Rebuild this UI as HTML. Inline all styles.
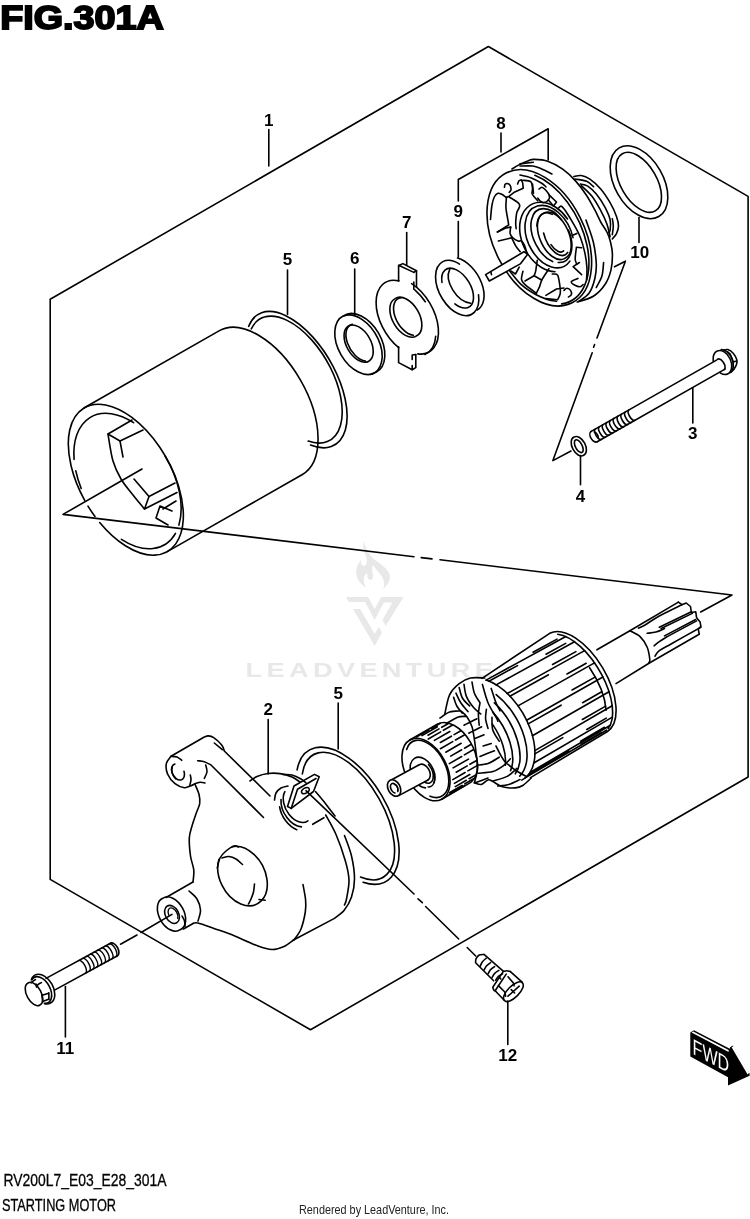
<!DOCTYPE html>
<html><head><meta charset="utf-8"><title>FIG.301A STARTING MOTOR</title>
<style>
html,body{margin:0;padding:0;background:#fff}
body{width:750px;height:1219px;overflow:hidden;font-family:"Liberation Sans",sans-serif}
svg{display:block;will-change:transform;opacity:.9999}
.k{fill:none;stroke:#000;stroke-width:1.6;stroke-linecap:round;stroke-linejoin:round}
.w{fill:#fff;stroke:#000;stroke-width:1.6;stroke-linecap:round;stroke-linejoin:round}
.t{fill:none;stroke:#000;stroke-width:1.4;stroke-linecap:round;stroke-linejoin:round}
.n{font:bold 17px "Liberation Sans",sans-serif;text-anchor:middle;fill:#000}
.wm{fill:#e8e8e8}
</style></head><body>
<svg width="750" height="1219" viewBox="0 0 750 1219">
<rect width="750" height="1219" fill="#fff"/>
<g class="wm">
<path d="M364.2 541.4C364.5 541.1 364.7 544.5 365.4 546.2C366.1 547.9 366.9 549.8 368.2 551.8C369.5 553.8 371 556.2 373 558.2C375 560.2 377.9 561.9 380.2 563.8C382.5 565.7 385 567.5 386.6 569.4C388.2 571.3 389.4 573 389.8 575C390.2 577 389.8 579.4 389 581.4C388.2 583.4 385.9 585.8 385 587C384.1 588.2 383.5 589.3 383.4 588.6C383.3 587.9 384.5 585 384.2 583C383.9 581 383 578.7 381.8 576.6C380.6 574.5 378.5 572.1 377 570.2C375.5 568.3 373.8 565.3 373 565.4C372.2 565.5 372.2 569.3 372.2 571C372.2 572.7 373 574.5 373 575.8C373 577.1 372.7 578.3 372.2 579C371.7 579.7 370.5 579.9 369.8 579.8C369.1 579.7 368.2 579 367.8 578.2C367.4 577.4 367.6 575.8 367.4 575C367.2 574.2 367.1 573.1 366.6 573.4C366.1 573.7 364.7 575.3 364.2 576.6C363.7 577.9 363.7 579.9 363.8 581.4C363.9 582.9 364.5 584.3 365 585.4C365.5 586.5 367.1 587.9 366.6 587.8C366.1 587.7 363.3 586.1 361.8 584.6C360.3 583.1 358.7 581 357.8 579C356.9 577 356.3 574.6 356.2 572.6C356.1 570.6 356.4 568.9 357 567C357.6 565.1 359.1 562.6 359.8 561.4C360.5 560.2 360.8 559.5 361 559.8C361.2 560.1 360.7 562.1 361 563C361.3 563.9 361.9 565 362.6 565.4C363.3 565.8 364.3 565.8 365 565.4C365.7 565 366.3 564.1 366.6 563C366.9 561.9 366.9 560.6 366.6 559C366.3 557.4 365.5 555.3 365 553.4C364.5 551.5 363.5 549.8 363.4 547.8C363.3 545.8 363.9 541.7 364.2 541.4Z"/>
<path d="M346.1 597H368L374.7 609.1L381.1 597H403.5L385.7 625.9L382.5 619.9L392.3 602.6H383.9L374.7 619.9L365.2 602.1H348.9Z"/>
<path d="M353.1 609.1H360.1L374.7 633.9L378.7 626.9L382 632.5L374.7 646Z"/>
<text transform="translate(245.5 677) scale(1.32 1)" style="font:bold 20.6px 'Liberation Sans',sans-serif;letter-spacing:3.3px">LEADVENTURE</text>
</g>
<path class="k" d="M50.2 879.4V299.3L488.4 46.5L748.1 196.4V777L310.5 1029.8Z"/>
<path class="k" d="M142 469L63 514.4L414 556.7"/>
<path class="k" d="M421.2 557.6L432 558.9"/>
<path class="k" d="M440 559.8L732 595L700.7 612"/>
<path class="k" d="M84.7 500.4A83 46 60 1 1 99.7 522.5M95 516.5A83 46 60 0 1 88 506.2"/>
<path class="k" d="M84.3 407.8L219 330.9A83 46 60 0 1 302 474.7L167.3 551.6"/>
<path class="k" d="M175.5 533.4A73.8 45 60 0 1 121.4 539.3"/>
<path class="k" d="M81.2 488.5A73.8 45 60 0 1 75.8 470.9"/>
<path class="k" d="M74.1 459.4A73.8 45 60 0 1 133.6 422.7"/>
<path class="k" d="M165.2 456.3A73.8 45 60 0 1 178.9 525.1"/>
<path class="k" d="M132 420L108 434L120 441L143 430"/>
<path class="k" d="M120 441L121.5 449L123 457"/>
<path class="k" d="M108 434C108.8 438.5 110.8 453.5 113 461C115.2 468.5 117.7 473.3 121 479C124.3 484.7 129.1 490 133 495C136.9 500 142.6 506.7 144.5 509"/>
<path class="k" d="M134 479L149 496.5L175 483"/>
<path class="k" d="M149 496.5L144.5 509L177 492.5"/>
<path class="k" d="M172 511L160 506L156 518L168 525"/>
<path class="k" d="M163 509L176 501"/>
<path class="k" d="M248.7 326.3A75.7 38.4 59.7 1 1 310.5 445"/>
<path class="k" d="M251.3 328.8A70 36.9 60.2 1 1 308.2 441.1"/>
<path class="k" d="M376.1 372.2A32.6 20.8 60 1 1 343.5 315.8A32.6 20.8 60 1 1 376.1 372.2Z"/>
<path class="k" d="M343.8 315.9A32.4 20.6 60 1 1 370.5 374.4"/>
<path class="k" d="M368.8 361.2A20.3 12.1 60 1 1 348.5 326A20.3 12.1 60 1 1 368.8 361.2Z"/>
<path class="k" d="M365.4 361.1A20.3 12.1 60 0 1 352.4 324.2"/>
<path class="k" d="M414.8 289.8A41.2 25 60 0 1 425.3 301.8"/>
<path class="k" d="M435.7 336.2A41.2 25 60 0 1 424.9 354.5"/>
<path class="k" d="M398.7 347.7A41.2 25 60 0 1 398.9 280.9"/>
<path class="k" d="M411.6 283.6A41.2 25 60 0 1 417.8 353.9"/>
<path class="k" d="M398.6 281L398.6 265.2L413.8 272.4M413.8 282L413.8 289.2"/>
<path class="k" d="M398.9 265.5L402.9 263.6L416.5 270.8L413.8 272.4"/>
<path class="k" d="M416.5 270.8L416.5 287"/>
<path class="k" d="M398.6 346.8L398.6 362.6L412.2 369.7M412.2 355L412.2 359.5M412.2 365.5L412.2 369.7M412.2 355L415.8 354.5"/>
<path class="k" d="M412.2 369.7L415.8 367.6L415.8 354.5"/>
<path class="k" d="M416.6 335.8A21.5 13 60 1 1 395.1 298.6A21.5 13 60 1 1 416.6 335.8Z"/>
<path class="k" d="M413.4 335.2A20.5 12 60 0 1 401.2 297.8"/>
<path class="k" d="M478.5 294.7A30 18.2 60.6 1 1 459.5 264.1"/>
<path class="k" d="M457.5 258A29.8 18.4 58 0 1 477.1 310"/>
<path class="k" d="M442 282.4A22.1 12.7 58 1 1 454.9 303.9"/>
<path class="k" d="M449.8 269.2A22.4 14.8 53.6 0 0 470.7 303.3"/>
<path class="k" d="M658.8 216.5A39.6 24.2 60 1 1 619.2 147.9A39.6 24.2 60 1 1 658.8 216.5Z"/>
<path class="k" d="M655.3 210.9A33 18 60 1 1 622.3 153.7A33 18 60 1 1 655.3 210.9Z"/>
<path class="k" d="M583.6 455.3A10.3 6.3 62 1 1 574 437.1A10.3 6.3 62 1 1 583.6 455.3Z"/>
<path class="k" d="M582.1 452.4A7 3.3 62 1 1 575.5 440A7 3.3 62 1 1 582.1 452.4Z"/>
<path class="k" d="M723.6 350.2C724.3 350.1 726.2 349.1 727.8 349.6C729.4 350.1 731.7 351.5 733.2 353.2C734.7 354.9 736.2 357.9 736.8 359.8C737.3 361.7 737 363 736.5 364.6C736 366.2 734.8 368.1 733.8 369.4C732.8 370.7 731.1 371.9 730.6 372.4"/>
<path class="k" d="M727.6 351.8L730.2 354.2L733.2 362L733.2 366.5"/>
<path class="k" d="M733.2 362L736.6 361"/>
<path class="k" d="M721.2 349.6A12.6 8.5 65.8 0 1 730.6 372.3"/>
<path class="w" d="M727.6 374A12.6 8.5 65.8 1 1 717.2 351A12.6 8.5 65.8 1 1 727.6 374Z"/>
<path d="M591.2 431.4L716.5 360.1L725 369.1L597.2 441.8Z" fill="#fff"/>
<path class="k" d="M591.2 431.4L716.5 360.1"/>
<path class="k" d="M597.2 441.8L725 369.1"/>
<path class="k" d="M717.4 359.3A6.3 3.8 60.4 0 1 724.4 369.5"/>
<path class="k" d="M597.2 441.8A6 3.6 60.4 0 1 591.2 431.4"/>
<path class="k" d="M594.3 432A4.2 2 60.4 0 1 598.4 438.5"/>
<path class="k" d="M601.5 439.4A6 2.7 60.4 0 1 595.5 428.9M605.2 437.2A6 2.7 60.4 0 1 599.3 426.8M608.9 435.1A6 2.7 60.4 0 1 603 424.7M612.6 433A6 2.7 60.4 0 1 606.7 422.6M616.4 430.9A6 2.7 60.4 0 1 610.4 420.5M620.1 428.8A6 2.7 60.4 0 1 614.1 418.3M623.8 426.7A6 2.7 60.4 0 1 617.9 416.2M627.5 424.5A6 2.7 60.4 0 1 621.6 414.1M631.2 422.4A6 2.7 60.4 0 1 625.3 412M635 420.3A6 2.7 60.4 0 1 629 409.9"/>
<path class="k" d="M46 978.4L110.5 943.2"/>
<path class="k" d="M55 989.9L117.5 955.8"/>
<path class="k" d="M110.5 943.2A7.2 4 61.3 0 1 117.5 955.8"/>
<path class="t" d="M78.5 960.6A7.2 3.2 61.4 0 1 85.5 973.3M82.4 958.5A7.2 3.2 61.4 0 1 89.3 971.2M86.2 956.5A7.2 3.2 61.4 0 1 93.1 969.1M90 954.4A7.2 3.2 61.4 0 1 96.9 967M93.8 952.3A7.2 3.2 61.4 0 1 100.7 964.9M97.6 950.2A7.2 3.2 61.4 0 1 104.5 962.9M101.4 948.1A7.2 3.2 61.4 0 1 108.3 960.8M105.2 946.1A7.2 3.2 61.4 0 1 112.1 958.7M109 944A7.2 3.2 61.4 0 1 116 956.6"/>
<path class="k" d="M31.3 979.7A16 10.5 60.4 1 1 44.6 1003.7"/>
<path class="k" d="M31.9 979.7A14.4 8.8 60.4 1 1 44.4 1003.2"/>
<path class="k" d="M39.9 1005A12.5 6.9 61.9 1 1 28.1 983A12.5 6.9 61.9 1 1 39.9 1005Z"/>
<path class="k" d="M31 982.8L33 981.2L35.4 979.6"/>
<path class="k" d="M36.6 985.8L39 983.8L41.4 982.6"/>
<path class="k" d="M36 984L36.6 987.2"/>
<path class="k" d="M42.2 995.2L48.6 993.2"/>
<path class="k" d="M42.6 1001.6L48.6 999.2"/>
<path class="k" d="M42 994.8L42.7 1002"/>
<path class="k" d="M48.8 992.8L48.9 999.4"/>
<path class="k" d="M120.5 944.2L137 935"/>
<path class="k" d="M141 932.5L172 914.4"/>
<path class="k" d="M503.2 971.2L484 954.4C483.2 954.5 480.5 954.3 479.2 955C477.9 955.8 476.6 957.5 476 958.8C475.4 960.1 475.7 962.1 475.6 962.8L493.6 980.8"/>
<path class="k" d="M486.2 958.2C485.6 958.8 483.4 960.5 482.4 961.8C481.4 963.2 480.4 965.8 480 966.6M490.6 962.6C489.9 963.1 487.7 964.6 486.6 965.8C485.5 967.1 484.4 969.5 484 970.2M494.6 966.6C494 967.1 491.7 968.4 490.6 969.6C489.5 970.9 488.4 973.1 488 973.8M498.9 970.4C498.2 970.9 495.9 972.2 494.7 973.4C493.6 974.6 492.5 976.9 492 977.6M502.6 973.8C501.9 974.2 499.5 975.3 498.4 976.4C497.3 977.5 496.1 979.5 495.7 980.2"/>
<path class="k" d="M495.6 991.2C495.3 991 494.2 990.7 493.8 990C493.3 989.3 493 987.7 492.8 987.2L503.2 971.6C503.8 971.5 505.6 970.7 506.8 970.7C508 970.7 509.8 971.5 510.4 971.6"/>
<path class="k" d="M506.2 974.1L495.8 989.8"/>
<path class="k" d="M499.4 977.4L500.8 979"/>
<path class="k" d="M510.4 971.6L522.4 982.4"/>
<path class="k" d="M495.6 991.2L504 1000"/>
<path class="k" d="M504.5 1000.6A12.6 5.4 135.1 1 1 522.3 982.8A12.6 5.4 135.1 1 1 504.5 1000.6Z"/>
<path class="k" d="M508 976.8L513.6 983.2L514.1 985.8"/>
<path class="k" d="M498.4 985.6L504.8 992L505.6 996.2"/>
<path class="k" d="M508 996.2L519.2 986.2"/>
<path class="k" d="M511.2 989.6L514.6 993"/>
<path class="k" d="M297.1 769.9A76 39.6 59.6 1 1 363.1 882.3"/>
<path class="k" d="M302.3 774A70.5 35.4 60.5 1 1 360.5 877"/>
<path class="k" d="M195 783.7C194.3 784 192.8 785 191 785.7C189.2 786.4 187 788 184.3 787.7C181.6 787.4 177.8 785.9 175 783.7C172.2 781.5 169.1 777.6 167.7 774.3C166.2 771 165.8 766.7 166.3 763.7C166.9 760.7 170.2 757.5 171 756.3L204.3 737C205 736.8 206.7 735.8 208.3 735.9C209.9 736 211.5 736.2 213.7 737.7C215.9 739.2 219.9 742.8 221.7 745C223.5 747.2 223.9 750 224.3 751L270 796"/>
<path class="k" d="M171 756.3C172 756.4 175.2 756.3 177 757C178.8 757.7 180.9 759.8 181.7 760.3"/>
<path class="k" d="M214.3 743L222.3 749.7"/>
<path class="k" d="M197.7 760.7C198.8 760.9 202.1 761 204.3 761.7C206.5 762.4 209.9 764.5 211 765L263.5 817.5"/>
<path class="k" d="M205.7 765C205.9 766.1 207.2 769.5 207 771.7C206.8 773.9 204.8 777.2 204.3 778.3"/>
<path class="k" d="M195 783.7C195.9 783.5 198.6 782.4 200.3 782.3C202 782.2 204.2 782.9 205 783"/>
<path class="k" d="M190.3 775C190.4 775.8 191.1 777.9 191 779.7C190.9 781.5 189.9 784.7 189.7 785.7"/>
<path class="k" d="M184 771.3A8.6 5.8 62 1 1 174.9 764"/>
<path class="k" d="M175.9 778.8A8.6 5.8 62 0 1 172.2 767.4"/>
<path class="k" d="M195 784.3C195.7 786 198.2 791.1 199 794.3C199.8 797.5 200.1 800.6 199.7 803.7C199.2 806.8 197.5 809.5 196.3 813C195.1 816.5 193.5 820.8 192.3 825C191.1 829.2 189.6 832.8 189.3 838C189 843.2 189.8 850.7 190.5 856C191.2 861.3 193.4 865.7 193.8 870C194.2 874.3 193.1 880 193 882"/>
<path class="k" d="M193 882L166 897.5"/>
<path class="k" d="M180.2 929.7A18 11.6 61 1 1 162.8 898.3A18 11.6 61 1 1 180.2 929.7Z"/>
<path class="k" d="M183.5 929L193.5 923.3"/>
<path class="k" d="M193.5 923.3C194.2 923.2 194.6 922.1 198 923C201.4 923.9 208.7 926.7 214 928.5C219.3 930.3 222.7 931.1 230 934C237.3 936.9 251 943.4 258 946C265 948.6 267.7 949.4 272 949.5C276.3 949.6 280.4 948.1 284 946.5C287.6 944.9 291.9 941.1 293.5 940"/>
<path class="k" d="M189 891C190.3 892.3 195.1 895.8 197 899C198.9 902.2 200.3 906.3 200.5 910C200.7 913.7 198.4 919.2 198 921"/>
<path class="k" d="M182 916C182.4 916.8 184 919.2 184.5 921C185 922.8 184.9 925.6 185 926.5"/>
<path class="k" d="M176.7 922.8A9.6 6.6 61 1 1 167.3 906A9.6 6.6 61 1 1 176.7 922.8Z"/>
<path class="t" d="M168.8 915.2A6.8 4.2 61 1 1 177.7 918.3"/>
<path class="k" d="M232.2 846.6A31.5 22.5 62 1 1 219 859.3"/>
<path class="k" d="M238.5 847C237.8 846.8 236.1 845.3 234 846C231.9 846.7 228.3 849 226 851C223.7 853 221.4 855.2 220 858C218.6 860.8 217.8 866.3 217.3 868"/>
<path class="k" d="M222 858C223.2 857.8 226.7 856.3 229 856.5C231.3 856.7 233.8 857.7 236 859C238.2 860.3 241.4 863.6 242.5 864.5"/>
<path class="k" d="M254.5 884C254.3 885.3 254.1 889.5 253.5 892C252.9 894.5 251.8 897 251 899C250.2 901 248.9 903.2 248.5 904"/>
<path class="k" d="M259 899.5L265.2 900.2"/>
<path class="k" d="M250 781C251.2 780.2 254 777.8 257 776.5C260 775.2 264.2 774 268 773.5C271.8 773 276 773 280 773.6C284 774.2 288.7 775.6 292 777C295.3 778.4 298.7 781.2 300 782"/>
<path class="k" d="M283 774.5C284.5 774.6 289 774.2 292 775C295 775.8 298.7 777.7 301 779C303.3 780.3 305.2 782.3 306 783"/>
<path class="k" d="M325.7 815C327.4 818.2 332.7 826.9 336 834.5C339.3 842.1 343.1 853.1 345.3 860.7C347.5 868.3 348.8 873.6 349 880C349.2 886.4 347.2 894.8 346.5 899C345.8 903.2 344.8 904 344.5 905"/>
<path class="k" d="M344.5 835.5C345.7 838.9 349.8 848.8 351.5 856C353.2 863.2 354.5 872.2 354.5 879C354.5 885.8 353.2 891.8 351.5 897C349.8 902.2 346.9 906.9 344 910.5C341.1 914.1 335.7 917.2 334 918.6L293.5 940"/>
<path class="k" d="M312.7 824.3L323.9 817.7"/>
<path class="k" d="M303 884.6C303.4 887.2 305.2 895.4 305.6 900C306 904.6 306.1 907.2 305.3 912C304.5 916.8 302.9 924.3 301 929C299.1 933.7 295.2 938.2 294 940"/>
<path class="k" d="M307.9 820.8A19 12.5 60 0 1 284.9 791.7"/>
<path class="k" d="M301.4 826.9A21 14 60 0 1 281 799.6"/>
<path class="k" d="M296.8 829.7A22.5 15 60 0 1 279.6 806.8"/>
<path class="k" d="M274.5 800C274.8 798.8 274.9 795 276 793C277.1 791 279 789.2 281 788C283 786.8 286.8 786.3 288 786"/>
<path class="k" d="M287.5 806.5L294 786L314.5 774.4L319.2 776.7L313.5 791.5L291.2 808.4L287.5 806.5"/>
<path class="k" d="M291.2 808.4L297.5 789.2L316 778.5"/>
<path class="k" d="M309 788.5A4.2 2.3 -30 1 1 301.8 792.7A4.2 2.3 -30 1 1 309 788.5Z"/>
<path class="k" d="M306 790.7L414 894"/>
<path class="k" d="M315.5 791.6C317.1 793.5 321.8 798.9 325 803C328.2 807.1 333.3 813.8 335 816"/>
<path class="k" d="M418 898.8L422.4 902.7"/>
<path class="k" d="M425.6 906.5L458.7 939"/>
<path class="k" d="M467.2 947.5L475.7 956"/>
<path class="k" d="M572.1 302.8A72.8 45.6 63.2 1 1 506.5 172.8A72.8 45.6 63.2 1 1 572.1 302.8Z"/>
<path class="k" d="M534.9 175.3A70.6 43.6 63.2 0 1 561.7 303.9"/>
<path class="k" d="M512 169C513.3 168.2 517.2 165.8 520 164.4C522.8 163 526.2 161.5 528.5 160.7C530.8 159.9 530.7 159.3 533.9 159.4C537.1 159.5 542.9 159.6 547.7 161.2C552.5 162.8 558.1 165.9 562.7 169.2C567.3 172.5 571.6 176.6 575.5 180.9C579.4 185.2 582.9 190 586.1 194.8C589.3 199.6 592.2 205.1 594.7 209.7C597.2 214.3 599 218.8 601 222.5C603 226.2 605.3 228.8 606.9 232C608.5 235.2 609.6 238.4 610.5 242C611.4 245.6 612.3 249 612.4 253.7C612.5 258.3 612.2 264.8 611 269.9C609.8 275 608 280.1 605 284.5C602 288.9 597.9 293.4 593.3 296.3C588.7 299.2 579.9 301.1 577.2 302"/>
<path class="k" d="M520 163.9L533.3 162.3"/>
<path class="k" d="M520 166C522.1 166 529.2 165.6 532.8 166C536.3 166.4 538.1 167.4 541.3 168.7C544.5 170 550.2 173.1 552 174"/>
<path class="k" d="M578.7 301.4C580.4 300 586.3 297.1 589 293.3C591.7 289.5 593.6 283.6 594.8 278.7C596 273.8 596.5 270.1 596.3 264C596 257.9 595 249.3 593.3 242C591.6 234.7 587.2 223.7 586 220"/>
<path class="k" d="M596.3 287.5C597.2 285.5 600.8 279.9 602 275.7C603.2 271.5 603.3 264.7 603.6 262.5"/>
<path class="k" d="M520 175C521.8 175.4 527.2 176.4 530.7 177.7C534.2 179 538.8 181.5 541.3 183C543.8 184.5 545.2 186.2 546 186.8"/>
<path class="k" d="M558.7 207.8C559.1 207.5 560.1 205.7 561.3 206.2C562.4 206.7 563.5 207.9 565.6 211C567.7 214.1 571.6 220.5 574.1 224.9C576.6 229.3 578.7 233.1 580.5 237.7C582.3 242.3 583.7 247.6 584.8 252.6C585.9 257.6 586.6 262.9 586.9 267.5C587.2 272.1 586.6 277.9 586.5 280"/>
<path class="k" d="M509.6 270.9C511.6 273.2 517 280.8 521.3 284.7C525.6 288.6 530.8 291.8 535.2 294.3C539.7 296.8 544.5 298.5 548 299.7C551.5 300.9 555.1 301 556.5 301.3"/>
<path class="k" d="M490.5 219.5C490.7 217.2 491.3 209.2 491.9 205.5C492.5 201.8 493.3 199 494.3 197C495.3 195 496.8 193.8 498 193.3C499.2 192.9 500.3 193.6 501.7 194.3C503.1 195 505.6 197 506.4 197.5"/>
<path class="k" d="M506.4 197.5C506.3 199.1 505.8 204.1 505.9 207.3C506 210.5 506.8 213.8 507.3 216.7C507.8 219.6 508.5 223.6 508.7 225L497.5 232"/>
<path class="k" d="M504.5 187.3C504.6 186.8 504.5 185.1 505 184.5C505.5 183.9 506.4 183.3 507.3 183.5C508.2 183.7 509.5 184.4 510.1 185.4C510.7 186.4 511.1 188.4 511 189.6C510.9 190.8 509.5 191.9 509.2 192.4"/>
<path class="k" d="M506.4 197.5L509.2 196.1L514.8 191.9L523.2 188.2L522.7 183L521.3 179.8C520.9 180 519.6 180 519 180.7C518.4 181.4 517.8 183.4 517.6 184"/>
<path class="k" d="M509.2 197C510.9 198.2 518.2 201.8 519.5 204.5C520.8 207.2 517.3 209.9 516.7 212.9C516.1 215.9 515.8 219.7 515.7 222.3C515.6 225 516.1 227.7 516.2 228.8"/>
<path class="k" d="M522.7 180.3C524 180.5 529.1 180.3 530.7 181.7C532.3 183.1 532.3 186.8 532.5 188.7C532.7 190.6 531.7 191.9 532 193.3C532.3 194.7 533.4 195.8 534.4 197C535.4 198.2 537.2 200.2 537.7 200.8"/>
<path class="k" d="M532.5 184L533.5 193.3"/>
<path class="k" d="M539 189.1C539.5 188.8 540.8 187.2 541.9 187.3C543 187.5 544.4 188.7 545.6 190C546.8 191.3 548.8 193.5 549.3 195.2C549.8 196.8 549.3 198.7 548.4 199.9C547.5 201.2 545.1 202.5 543.7 202.7C542.3 202.8 541 201.6 540 200.8C539 200 538.1 198.5 537.7 198"/>
<path class="k" d="M549.3 195.2L556.5 202L553.5 206"/>
<path class="k" d="M548.4 199.9L553.5 206"/>
<path class="k" d="M555 271.7A36.5 26 64 1 1 567.5 219"/>
<path class="k" d="M569.9 261.1A33 22 64 1 1 573 237.6"/>
<path class="k" d="M552.6 261.6A29 17.5 64 1 1 561.6 219.7"/>
<path class="k" d="M568.4 230A29 17.5 64 0 1 558.2 262.5"/>
<path class="k" d="M564.5 258.6A25 14 66 1 1 544.1 213A25 14 66 1 1 564.5 258.6Z"/>
<path class="k" d="M567.7 252.4A21.5 11 66 0 1 543.6 233"/>
<path class="k" d="M563.6 250.9A17 8 66 0 1 551 244.6"/>
<path class="k" d="M536.9 226.1A25 14 66 0 1 552.2 214.4"/>
<path class="k" d="M497.3 232L505.3 228.2L510.7 227.1"/>
<path class="k" d="M498.4 241L511.7 237.8"/>
<path class="k" d="M510.7 227.1C510.6 228.2 509.8 231.7 510.1 233.5C510.5 235.3 511.5 236.6 512.8 237.8C514.1 239.1 516.7 240.5 518.1 241C519.5 241.5 520.2 240.3 521.3 241C522.4 241.7 523.6 243.4 524.5 245.3C525.4 247.2 526.3 251.5 526.7 252.7"/>
<path class="k" d="M511.7 237.8C512.4 239.2 514.6 244 516 246.3C517.4 248.6 519.6 250.8 520.3 251.7"/>
<path class="k" d="M510.7 270.9L515.5 274L519.2 267.1"/>
<path class="k" d="M522.9 271.4C522.7 272.7 521.2 277.3 521.5 279.4C521.8 281.5 522 281.9 524.5 284.2C527 286.5 534.3 291.8 536.3 293.3"/>
<path class="k" d="M536.3 293.3C536.8 292.2 538.5 289.2 539.5 286.9C540.5 284.6 540.5 282.4 542.1 279.4C543.7 276.4 547.9 270.5 549 268.7"/>
<path class="k" d="M525 281L534.1 275.7L541.6 280"/>
<path class="k" d="M534.1 275.7C534.4 274.9 535.2 273.5 535.7 270.9C536.2 268.3 537 262 537.3 260.2"/>
<path class="k" d="M552.3 274C553.2 274.2 556.4 273.3 557.6 275.1C558.8 276.9 559.2 281.7 559.7 284.7C560.2 287.7 560.6 290.8 560.3 293.3C559.9 295.8 558 298.6 557.6 299.7L545.9 298.6"/>
<path class="k" d="M545.9 295.4L556.5 289L564 288"/>
<path class="k" d="M564 290.4C564.5 290 565.8 288.2 566.9 288.2C568 288.2 569.9 289.3 570.6 290.4C571.3 291.5 571.7 293.7 571.3 294.8C570.9 295.9 568.9 296.6 568.4 297"/>
<path class="k" d="M572 235.5L576.8 233.4"/>
<path class="k" d="M576.3 247.3L581.6 247.8"/>
<path class="k" d="M576.3 248.3C576.1 250.1 575.1 256.3 575.2 259C575.3 261.7 576.5 263.4 576.8 264.3"/>
<path class="k" d="M579.4 262.5L573.1 266.6L581.6 274.6"/>
<path class="k" d="M577.9 278.4C576.8 278.9 571.8 280.5 571.3 281.6C570.8 282.8 573.5 284.5 575 285.3C576.5 286.1 578.8 286.8 580.1 286.7C581.5 286.6 582.6 284.9 583.1 284.5"/>
<path class="w" d="M485.6 274.6L524 251.7L527.5 254.5L520.3 263.9L489.3 281Z"/>
<path class="k" d="M490.9 271.9L491.5 274.6"/>
<path class="k" d="M573.9 176.5C575.1 176.3 578.6 175.1 581.3 175.5C584 175.9 586.7 177 589.9 179.2C593.1 181.4 597.1 184.9 600.5 188.8C603.9 192.7 607.4 198.1 610.1 202.7C612.8 207.3 615.1 212.6 616.5 216.5C617.9 220.4 618.5 223.2 618.5 226.1C618.5 228.9 617.5 231.5 616.5 233.6C615.5 235.7 613 238 612.3 238.9"/>
<path class="k" d="M574.9 179C576.9 179.4 583.6 180 586.7 181.3C589.8 182.6 592.5 185.8 593.6 186.7"/>
<path class="k" d="M580.3 184C581.5 184.3 585 184.4 587.7 186.1C590.4 187.8 593.4 190.6 596.3 194.1C599.1 197.6 602.5 202.6 604.8 206.9C607.1 211.2 609.2 215.8 610.1 219.7C611 223.6 610.4 228.3 610.1 230.4C609.8 232.5 608.8 232.2 608.5 232.5"/>
<path class="k" d="M581.3 185.6C583.1 187.4 588.8 192.2 592 196.3C595.2 200.4 598 205.5 600.5 210.1C603 214.7 605.3 219.6 606.9 224C608.5 228.4 609.6 234.7 610.1 236.8"/>
<path class="k" d="M612.3 218.7C612.5 219.9 613.3 223.4 613.3 226.1C613.3 228.8 612.5 233.3 612.3 234.7"/>
<path class="k" d="M441.8 799.2A33.6 20.5 62 1 1 410.2 739.8A33.6 20.5 62 1 1 441.8 799.2Z"/>
<path class="k" d="M406.6 749.4A31 18.1 62 1 1 430 796.2"/>
<path class="k" d="M410.2 739.8L437.7 724A33.6 20.5 62 0 1 471.6 781.7"/>
<path class="k" d="M441.8 799.2L470.8 782.4"/>
<path class="k" d="M416.4 737L428.7 729.9M431.5 728.3L440.3 723.3M422 735.6L437.4 726.8M428 735.2L439 728.9M441.7 727.3L448.1 723.7M428.3 739L440.7 731.9M443.4 730.3L452.2 725.3M434.4 740.4L449.8 731.5M440.4 742.5L451.4 736.2M454.1 734.6L460.5 731M440.4 748.7L452.7 741.6M455.5 740L464.3 735M445.8 752.2L461.2 743.3M450.7 756.1L461.7 749.8M464.5 748.2L470.8 744.5M449.3 763.6L461.7 756.5M464.4 754.9L473.2 749.8M453.1 767.9L468.5 759.1M456.2 772.2L467.2 765.9M469.9 764.3L476.2 760.7M452.8 779.6L465.1 772.5M467.9 770.9L476.7 765.9M454.4 783.4L469.8 774.5M455.3 786.6L466.3 780.3M469.1 778.7L475.4 775.1M449.8 792.5L462.1 785.4M464.9 783.8L473.7 778.8M449.4 794.4L464.8 785.5"/>
<path class="k" d="M425.5 787.9A16.4 11 62 1 1 434.1 782.6"/>
<path class="k" d="M428.5 764.6A12.5 7.2 62 0 1 424.2 781.8"/>
<path class="t" d="M433.6 773.1A16 9 62 0 1 427.9 786.9"/>
<path d="M391.2 780L419.2 764.8L428 780L399.2 795.4Z" fill="#fff"/>
<path class="k" d="M391.2 780L419.2 764.8"/>
<path class="k" d="M399.2 795.4L428 780"/>
<path class="k" d="M419.5 764.6A8.8 6 62 0 1 427.7 780.2"/>
<path class="w" d="M398.2 795.8A8.8 6 62 1 1 390 780.2A8.8 6 62 1 1 398.2 795.8Z"/>
<path class="k" d="M394.9 793A5.2 3.3 62 1 1 397.8 791.4"/>
<path class="t" d="M394.6 784.5A3.4 2 62 0 1 397.6 790.1"/>
<path class="k" d="M482 678.4L549.7 633.3L549.7 633.3A57 29 59.5 0 1 607.5 731.5L530.5 777.6"/>
<path class="k" d="M557.7 634.2A55.5 26.5 59.5 0 1 608.1 728.5"/>
<path class="k" d="M589.6 667.7A51 23 59.5 0 1 606.1 710.2"/>
<path class="k" d="M486.1 680.1A57 33.6 59.5 0 1 521.8 780.1"/>
<path class="k" d="M486.1 680.1L565.8 636.5M488.9 681.2L517.5 665.6M533 652.2L557 639.1M496.1 684.9L574.5 641.7M546 654.2L565.7 643.4M507.2 693.5L584.6 650.6M509.9 696.2L548.5 674.8M552.6 664.5L575.9 651.6M518 705.9L594.5 662.9M567 674L586.2 663.3M526.6 720.3L602.9 677M528.2 723.9L561.1 705.2M572.1 690L595 677.1M532.4 735.7L609 691.7M582.6 702.7L601.7 691.8M534.8 750.6L612.2 705.7M534.8 753.9L562.8 737.6M582.4 719.5L605.6 706.1M533.8 763L612.4 717.1M586.8 729.5L606.3 718.1M530 772.4L610 725.5M528.6 774.4L568.8 750.8M580.6 741.2L604.5 727.3M525.2 777.8L606.5 730.2M581.1 744.5L601.3 732.6"/>
<path class="k" d="M496.2 694.6A53 30.6 59.5 0 1 519.7 776.1M494.4 702.9A49.8 28 59.5 0 1 515.3 773.8M493 712.4A46.6 25.4 59.5 0 1 510.6 770.6M492.4 724.1A43.4 22.8 59.5 0 1 505.3 765.3"/>
<path class="k" d="M596.9 649.8L629.9 630.7L678.4 602.1"/>
<path class="k" d="M616 683.6L649.8 662.8L699.2 634.2"/>
<path class="k" d="M629.9 630.7C631.6 631.7 637.4 634 640.3 636.8C643.2 639.5 645.6 643.5 647.2 647.2C648.8 651 649.5 656.7 649.8 659.3C650.1 661.9 649 662.2 648.9 662.8"/>
<path class="k" d="M678.4 602.1L681.9 604.7L686.2 603L690.5 606.5L691.4 612.5L695.7 611.7L696.6 617.7L700.1 622.1L700.9 626.4L698.3 629L699.2 634.2"/>
<path class="k" d="M681.9 604.7C678.1 606.6 665.4 612.7 659.3 616C653.3 619.3 648.9 622.6 645.5 624.7C642 626.7 639.7 627.6 638.5 628.1"/>
<path class="k" d="M659.3 627.3L691.4 611.7"/>
<path class="k" d="M661.1 628.5L692.3 613.4"/>
<path class="k" d="M664.5 635.9L695.7 619.5"/>
<path class="k" d="M666.3 637.1L696.6 620.9"/>
<path class="k" d="M664.5 628.5C663.1 629.1 658.8 631.3 655.9 632.1C653 632.9 648.6 633.1 647.2 633.3"/>
<path class="k" d="M666.3 637.1C665.1 637.9 661.4 640.2 659.3 641.7C657.3 643.1 655 645.1 654.1 645.8"/>
<path class="k" d="M700.9 627.3C696 630 678.4 639.8 671.5 643.7C664.5 647.6 662.1 648.6 659.3 650.7C656.6 652.7 655.7 655.3 655 656.2"/>
<path class="k" d="M444.8 714C445.6 710.8 447.2 699.9 449.6 694.8C452 689.7 455.7 686.4 459.2 683.6C462.7 680.8 466.1 678.9 470.4 678C474.7 677.1 482.4 678 484.8 678"/>
<path class="k" d="M474.4 782.8C475.6 783.1 479.3 784.9 481.6 784.4C483.9 783.9 486.1 780.4 488 779.9C489.9 779.4 490.4 780.4 492.8 781.5C495.2 782.7 498.7 785.7 502.4 786.8C506.1 787.9 511.7 788.2 515.2 787.9C518.7 787.7 520.5 786.9 523.2 785.2C525.9 783.5 529.9 779.2 531.2 778"/>
<path class="k" d="M464 684.4C464.4 686.4 464.8 692.5 466.4 696.4C468 700.3 471.2 704.7 473.6 707.6C476 710.5 479.6 712.9 480.8 714M472 682C472.4 683.9 473.1 689.7 474.4 693.2C475.7 696.7 479.1 701.2 480 702.8M456 693.2C456.8 694.8 458.8 699.7 460.8 702.8C462.8 705.9 466.8 710.1 468 711.6M453.6 697.2C454.1 698.7 455.3 703.3 456.8 706C458.3 708.7 461.5 712 462.4 713.2M482.4 684.4C483.3 687.5 485.7 697.3 488 702.8C490.3 708.3 494.3 714.1 496 717.2C497.7 720.3 497.6 720.5 497.9 721.2M480 702.8C479.7 704.7 478.5 710.3 478.4 714C478.3 717.7 479.1 723.3 479.2 725.2M486.4 709.2C486.3 710.8 485.3 715.6 485.6 718.8C485.9 722 487.6 726.8 488 728.4M492 717.2C492.1 719.3 491.6 726 492.8 730C494 734 498.1 739.3 499.2 741.2M496 746C497.3 748.4 500.8 756.4 504 760.4C507.2 764.4 511.5 767.3 515.2 770C518.9 772.7 524.5 775.3 526.4 776.4M464 725.2C466.1 724.1 474.7 719.9 476.8 718.8M468.8 733.2C470.9 732.1 479.5 727.9 481.6 726.8M474.4 738.8C476 738.1 482.4 735.5 484 734.8M483.2 746C484.5 745.6 489.9 744 491.2 743.6M480 756.4C482.4 755.5 492 751.7 494.4 750.8M476.8 765.2C478.7 764.9 484.3 764.9 488 763.6C491.7 762.3 497.3 758.3 499.2 757.2M478.4 773.2C480.8 772.9 488.5 772.9 492.8 771.6C497.1 770.3 501.1 767.3 504 765.2C506.9 763.1 509.3 759.9 510.4 758.8M475.2 782.8C477.3 782 485.9 778.8 488 778M492.8 781.2C495.2 780.4 503.2 778.5 507.2 776.4C511.2 774.3 515.2 769.7 516.8 768.4M497.6 786C499.5 785.7 505.1 785.5 508.8 784.4C512.5 783.3 518.1 780.4 520 779.6M440 718C441.6 717 446.1 713.3 449.6 712.1C453.1 710.9 458.9 711 460.8 710.8M446.4 723.6C448.3 722.5 454.4 718.4 457.6 717.2C460.8 716 464.3 716.5 465.6 716.4M460.8 710.8C461.9 711.9 465.3 714.5 467.2 717.2C469.1 719.9 470.8 723.1 472 726.8C473.2 730.5 473.7 735.3 474.4 739.6C475.1 743.9 475.5 747.6 476 752.4C476.5 757.2 477.9 763.3 477.6 768.4C477.3 773.5 474.9 780.4 474.4 782.8M491.2 688.4C492 690.8 494.5 699.1 496 702.8C497.5 706.5 499.3 709.5 500 710.8M459.2 687.6C459.7 689.3 460.7 694.9 462.4 698C464.1 701.1 468.4 704.7 469.6 706"/>
<text class="n" x="268.8" y="126">1</text>
<path class="k" d="M268.8 129.5L268.8 166"/>
<text class="n" x="287.5" y="265.3">5</text>
<path class="k" d="M287.5 270L287.5 314.5"/>
<text class="n" x="354.7" y="264">6</text>
<path class="k" d="M354.7 269L354.7 314.5"/>
<text class="n" x="406.7" y="228">7</text>
<path class="k" d="M406.7 232.5L406.7 265"/>
<text class="n" x="501" y="129.3">8</text>
<path class="k" d="M501 133L501 152"/>
<text class="n" x="639.8" y="258">10</text>
<text class="n" x="692.8" y="439.2">3</text>
<text class="n" x="580.5" y="501.7">4</text>
<text class="n" x="268.2" y="715">2</text>
<path class="k" d="M268.2 719.6L268.2 774"/>
<text class="n" x="338.2" y="699">5</text>
<path class="k" d="M338.2 703L338.2 749"/>
<text class="n" x="65.2" y="1054">11</text>
<text class="n" x="507.8" y="1060.5">12</text>
<text class="n" x="458.3" y="217.3">9</text>
<path class="k" d="M639 217.5L639 242.5"/>
<path class="k" d="M692.8 388L692.8 423"/>
<path class="k" d="M580.5 455.5L580.5 484.7"/>
<path class="k" d="M65.4 986.5L65.4 1037"/>
<path class="k" d="M507.8 1001L507.8 1044.5"/>
<path class="k" d="M458.3 201L458.3 179.5L548.2 128.8L548.2 160"/>
<path class="k" d="M458.3 221.5L458.3 257.3"/>
<path class="k" d="M614.5 266.8L625.4 261.2L597 338"/>
<path class="k" d="M594.6 344.5L593.6 347.2"/>
<path class="k" d="M592.2 352.7L552.9 460.6L571 451"/>
<text x="0.2" y="28.9" style="font:bold 34px 'Liberation Sans',sans-serif;stroke:#000;stroke-width:1.9px" textLength="163.5" lengthAdjust="spacingAndGlyphs">FIG.301A</text>
<text x="3.5" y="1186" style="font:16.8px 'Liberation Sans',sans-serif;stroke:#000;stroke-width:.3px" textLength="163" lengthAdjust="spacingAndGlyphs">RV200L7_E03_E28_301A</text>
<text x="2" y="1210.5" style="font:16.8px 'Liberation Sans',sans-serif;stroke:#000;stroke-width:.3px" textLength="114" lengthAdjust="spacingAndGlyphs">STARTING MOTOR</text>
<text x="299" y="1214" style="font:13px 'Liberation Sans',sans-serif;fill:#222" textLength="150" lengthAdjust="spacingAndGlyphs">Rendered by LeadVenture, Inc.</text>
<path d="M690.3 1032.4L694 1030.2L729.8 1048.8L730 1047.2L733 1045.6L749.6 1073.5L749.6 1075.8L728 1085.4V1077.2L690.3 1056.4Z" fill="#000"/>
<path d="M693.2 1031.5L728.6 1050.1L728.6 1051.9L691.6 1032.5Z" fill="#fff"/>
<path d="M731.6 1047.3L733.8 1046.1L749.4 1072.6L747.6 1074.4Z" fill="#fff"/>
<text transform="matrix(1 0.53 0 1 692.6 1053.8)" x="0" y="0" style="font:22px 'Liberation Sans',sans-serif;fill:#fff" textLength="36.5" lengthAdjust="spacingAndGlyphs">FWD</text>
</svg>
</body></html>
